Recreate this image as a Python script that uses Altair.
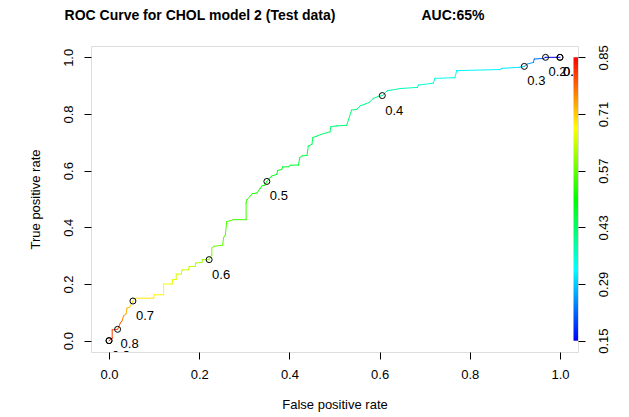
import altair as alt
import pandas as pd

# ROC curve vertices (false positive rate, true positive rate)
fpr = [0.000, 0.007, 0.007, 0.019, 0.025, 0.029, 0.032, 0.038, 0.040, 0.046, 0.053,
       0.058, 0.099, 0.100, 0.121, 0.121, 0.140, 0.141, 0.149, 0.149, 0.160, 0.162, 0.176, 0.178, 0.191, 0.192, 0.206, 0.207, 0.222,
       0.228, 0.228, 0.232, 0.252, 0.254, 0.258, 0.261, 0.276, 0.304, 0.304, 0.306, 0.313, 0.318, 0.328, 0.335, 0.339, 0.345, 0.350,
       0.357, 0.361, 0.372, 0.374, 0.383, 0.385, 0.398, 0.402, 0.420, 0.423, 0.428, 0.439, 0.442, 0.450, 0.452, 0.461, 0.470, 0.490,
       0.492, 0.504, 0.527, 0.538, 0.550, 0.557, 0.568, 0.577, 0.586, 0.597, 0.606,
       0.617, 0.647, 0.684, 0.686, 0.719, 0.723, 0.767, 0.771, 0.867, 0.871, 0.911, 0.921,
       0.927, 0.941, 0.943, 0.963, 0.968,
       1.000]
tpr = [0.000, 0.008, 0.038, 0.040, 0.062, 0.070, 0.087, 0.095, 0.115, 0.118, 0.140,
       0.150, 0.150, 0.162, 0.162, 0.200, 0.200, 0.215, 0.217, 0.235, 0.235, 0.250, 0.250, 0.262, 0.262, 0.274, 0.276, 0.286, 0.286,
       0.303, 0.327, 0.333, 0.337, 0.363, 0.374, 0.420, 0.427, 0.427, 0.487, 0.498, 0.510, 0.519, 0.521, 0.537, 0.546, 0.548, 0.562,
       0.575, 0.581, 0.587, 0.601, 0.604, 0.613, 0.614, 0.619, 0.620, 0.646, 0.652, 0.654, 0.687, 0.693, 0.717, 0.722, 0.728, 0.737,
       0.755, 0.758, 0.760, 0.814, 0.817, 0.829, 0.835, 0.841, 0.855, 0.862, 0.865,
       0.882, 0.890, 0.894, 0.902, 0.909, 0.926, 0.928, 0.953, 0.957, 0.961, 0.965, 0.968,
       0.976, 0.982, 0.994, 0.996, 1.000,
       1.000]
# cutoff (threshold) at each vertex, estimated from the colours
cutoff = [0.85, 0.83, 0.81, 0.80, 0.79, 0.78, 0.76, 0.75, 0.73, 0.72, 0.70,
          0.69, 0.69, 0.68, 0.68, 0.67, 0.67, 0.66, 0.66, 0.65, 0.65, 0.64, 0.64, 0.63, 0.63, 0.62, 0.61, 0.61, 0.60,
          0.58, 0.58, 0.57, 0.57, 0.56, 0.56, 0.55, 0.55, 0.54, 0.54, 0.53, 0.53, 0.52, 0.52, 0.51, 0.51, 0.50, 0.50,
          0.49, 0.49, 0.48, 0.48, 0.48, 0.47, 0.47, 0.47, 0.46, 0.46, 0.46, 0.45, 0.45, 0.44, 0.44, 0.44, 0.43, 0.43,
          0.43, 0.42, 0.42, 0.42, 0.41, 0.41, 0.41, 0.40, 0.40, 0.40, 0.40,
          0.39, 0.38, 0.37, 0.36, 0.35, 0.35, 0.34, 0.33, 0.32, 0.31, 0.31, 0.30,
          0.28, 0.26, 0.24, 0.22, 0.20,
          0.15]

# printed cutoffs
cut_labels = ["1.0", "0.9", "0.8", "0.7", "0.6", "0.5", "0.4", "0.3", "0.2", "0.1", "0.0"]
cut_x = [0.000, 0.000, 0.019, 0.053, 0.222, 0.350, 0.606, 0.921, 0.968, 1.000, 1.000]
cut_y = [0.000, 0.000, 0.040, 0.140, 0.286, 0.562, 0.865, 0.968, 1.000, 1.000, 1.000]

x_ticks = [0.0, 0.2, 0.4, 0.6, 0.8, 1.0]
y_ticks = [0.0, 0.2, 0.4, 0.6, 0.8, 1.0]
cbar_ticks = [0.15, 0.29, 0.43, 0.57, 0.71, 0.85]

title_text = ["ROC Curve for CHOL model 2 (Test data)"]
auc_text = ["AUC:65%"]

FONT = "Liberation Sans"
W, H = 487, 306

seg = pd.DataFrame({"x": fpr[:-1], "y": tpr[:-1], "x2": fpr[1:], "y2": tpr[1:], "c": cutoff[1:]})
pts = pd.DataFrame({"x": cut_x, "y": cut_y, "lab": cut_labels})
cbar = pd.DataFrame({"lo": [min(cbar_ticks)], "hi": [max(cbar_ticks)]})

xs = alt.Scale(domain=[-0.04, 1.04], nice=False, zero=False)
ys = alt.Scale(domain=[-0.04, 1.04], nice=False, zero=False)
cmin, cmax = min(cbar_ticks), max(cbar_ticks)
cs = alt.Scale(domain=[cmin - 0.04 * (cmax - cmin), cmax + 0.04 * (cmax - cmin)], nice=False, zero=False)
color_scale = alt.Scale(domain=[0.15, 0.325, 0.5, 0.675, 0.85],
                        range=["#0000ff", "#00ffff", "#00ff00", "#ffff00", "#ff0000"],
                        interpolate="rgb")

common_axis = dict(domain=False, grid=False, ticks=True, tickSize=7, tickColor="black", tickWidth=1,
                   labelFont=FONT, labelFontSize=13, labelColor="black",
                   titleFont=FONT, titleFontSize=13, titleFontWeight="normal", titleColor="black")

xaxis = alt.Axis(values=x_ticks, format=".1f", labelPadding=9, title="False positive rate",
                 titlePadding=17, **common_axis)
yaxis = alt.Axis(values=y_ticks, format=".1f", labelAngle=270, labelAlign="center", labelBaseline="bottom",
                 labelPadding=9, title="True positive rate", titlePadding=20, **common_axis)
raxis = alt.Axis(values=cbar_ticks, format=".2f", orient="right", labelAngle=270, labelAlign="center",
                 labelBaseline="top", labelPadding=12, title=None, **common_axis)

lines = alt.Chart(seg).mark_rule(strokeWidth=1, strokeCap="square").encode(
    x=alt.X("x:Q", scale=xs, axis=xaxis),
    y=alt.Y("y:Q", scale=ys, axis=yaxis),
    x2="x2:Q",
    y2="y2:Q",
    color=alt.Color("c:Q", scale=color_scale, legend=None),
)

circles = alt.Chart(pts).mark_point(shape="circle", filled=False, size=36, color="black",
                                    strokeWidth=1, opacity=1).encode(
    x=alt.X("x:Q", scale=xs, axis=xaxis),
    y=alt.Y("y:Q", scale=ys, axis=yaxis),
)

labels = alt.Chart(pts).mark_text(font=FONT, fontSize=13, color="black", align="center",
                                  baseline="middle", dx=12, dy=15, clip=True).encode(
    x=alt.X("x:Q", scale=xs, axis=xaxis),
    y=alt.Y("y:Q", scale=ys, axis=yaxis),
    text="lab:N",
)

title = alt.Chart(pd.DataFrame({"t": title_text})).mark_text(
    font=FONT, fontSize=14, fontWeight="bold", color="black", align="center", baseline="middle"
).encode(x=alt.value(109), y=alt.value(-30), text="t:N")

auc = alt.Chart(pd.DataFrame({"t": auc_text})).mark_text(
    font=FONT, fontSize=14, fontWeight="bold", color="black", align="center", baseline="middle"
).encode(x=alt.value(362), y=alt.value(-30), text="t:N")

colorbar = alt.Chart(cbar).mark_rect(
    fill=alt.Gradient(gradient="linear",
                      stops=[alt.GradientStop(color="#ff0000", offset=0),
                             alt.GradientStop(color="#ffff00", offset=0.25),
                             alt.GradientStop(color="#00ff00", offset=0.5),
                             alt.GradientStop(color="#00ffff", offset=0.75),
                             alt.GradientStop(color="#0000ff", offset=1)],
                      x1=0, y1=0, x2=0, y2=1)
).encode(
    x=alt.value(482.5),
    x2=alt.value(487),
    y=alt.Y("lo:Q", scale=cs, axis=raxis),
    y2="hi:Q",
)

base = alt.layer(lines, circles, labels, title, auc)

chart = alt.layer(base, colorbar).resolve_scale(y="independent").properties(
    width=W, height=H,
    padding={"left": 83, "top": 38, "right": 43, "bottom": 62},
    autosize=alt.AutoSizeParams(type="none"),
).configure_view(stroke="black", strokeWidth=1).configure(background="white")

chart.save("out.html", embed_options={"renderer": "svg", "actions": False})
